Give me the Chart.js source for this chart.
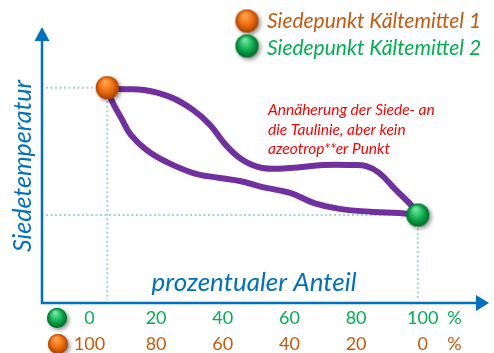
<!DOCTYPE html>
<html>
<head>
<meta charset="utf-8">
<script src="https://cdn.jsdelivr.net/npm/chart.js@4"></script>
<style>
  html, body { margin: 0; padding: 0; background: #fff; }
  canvas { display: block; }
</style>
</head>
<body>
<canvas id="chart" width="494" height="353"></canvas>
<script>
// Siedelinie / Taulinie eines zeotropen Gemischs (Anteil Kältemittel 2 in %)
const tauX   = [0, 3.8, 11.8, 20.4, 27.7, 33.1, 38.2, 43.6, 50.0, 58.9, 69.7, 78.7, 83.4, 87.6, 93.0, 98.4, 100];
const tauY   = [78, 77.5, 77.2, 74.6, 69.9, 64.5, 57.2, 51.8, 48.9, 48.9, 50.0, 50.0, 49.6, 47.1, 40.9, 34.8, 31.9];
const siedeX = [0, 1.3, 4.5, 7.6, 12.7, 19.1, 27.7, 36.3, 42.7, 50.0, 58.9, 66.6, 74.8, 85.7, 93.9, 100];
const siedeY = [78, 73.6, 67.0, 60.9, 55.4, 51.1, 47.1, 45.3, 44.2, 42.0, 39.9, 36.2, 34.1, 33.0, 32.6, 31.9];

// Siedepunkte der reinen Stoffe
const siedepunktKM1 = [0, 78];
const siedepunktKM2 = [100, 31.9];

// Achsbeschriftung: Anteil Kältemittel 2 (oben) und Kältemittel 1 (unten)
const anteilTicks = [0, 20, 40, 60, 80, 100];
const km2Labels = ['0', '20', '40', '60', '80', '100'];
const km1Labels = ['100', '80', '60', '40', '20', '0'];

const BLUE = '#0070C0', ORANGE = '#C55A11', GREEN = '#00B050', PURPLE = '#7030A0';
const FONT = 'Lato, "Open Sans", sans-serif';

function ball(r, light, mid, dark) {
  const pad = 5;
  const c = document.createElement('canvas');
  c.width = c.height = 2 * (r + pad);
  const g = c.getContext('2d');
  const cx = r + pad, cy = r + pad;
  g.save();
  g.shadowColor = 'rgba(0,0,0,0.45)';
  g.shadowBlur = 4;
  g.shadowOffsetX = 2;
  g.shadowOffsetY = 2;
  g.beginPath(); g.arc(cx, cy, r, 0, Math.PI * 2);
  g.fillStyle = mid; g.fill();
  g.restore();
  const grad = g.createRadialGradient(cx - r * 0.2, cy - r * 0.55, r * 0.1, cx, cy, r);
  grad.addColorStop(0, light);
  grad.addColorStop(0.55, mid);
  grad.addColorStop(1, dark);
  g.beginPath(); g.arc(cx, cy, r, 0, Math.PI * 2);
  g.fillStyle = grad; g.fill();
  return c;
}

const orangeBig = ball(11.5, '#FFA550', '#F07010', '#A84000');
const greenBig  = ball(11.5, '#70E8A0', '#10B050', '#006A2A');
const orangeSm  = ball(10, '#FFA550', '#F07010', '#A84000');
const greenSm   = ball(10, '#70E8A0', '#10B050', '#006A2A');

function drawImg(ctx, img, x, y) {
  ctx.drawImage(img, x - img.width / 2, y - img.height / 2);
}

const decor = {
  id: 'decor',
  beforeDatasetsDraw(chart) {
    const { ctx, chartArea: a, scales } = chart;
    const x = scales.x, y = scales.y;
    ctx.save();
    // gepunktete Hilfslinien zu den Siedepunkten
    ctx.strokeStyle = '#A3D3DA';
    ctx.lineWidth = 2;
    ctx.setLineDash([2, 2.5]);
    [siedepunktKM1, siedepunktKM2].forEach(p => {
      const px = x.getPixelForValue(p[0]), py = y.getPixelForValue(p[1]);
      ctx.beginPath();
      ctx.moveTo(a.left + 4, py); ctx.lineTo(px, py);
      ctx.moveTo(px, py); ctx.lineTo(px, a.bottom - 3);
      ctx.stroke();
    });
    ctx.setLineDash([]);
    // Achsen mit Pfeilspitzen
    ctx.strokeStyle = BLUE;
    ctx.fillStyle = BLUE;
    ctx.lineWidth = 2.5;
    ctx.beginPath();
    ctx.moveTo(a.left, a.top + 12);
    ctx.lineTo(a.left, a.bottom);
    ctx.lineTo(a.right - 12, a.bottom);
    ctx.stroke();
    ctx.beginPath();
    ctx.moveTo(a.left, a.top);
    ctx.lineTo(a.left + 7.5, a.top + 14);
    ctx.lineTo(a.left - 7.5, a.top + 14);
    ctx.closePath(); ctx.fill();
    ctx.beginPath();
    ctx.moveTo(a.right, a.bottom);
    ctx.lineTo(a.right - 13, a.bottom - 8);
    ctx.lineTo(a.right - 13, a.bottom + 8);
    ctx.closePath(); ctx.fill();
    ctx.restore();
  },
  afterDraw(chart) {
    const { ctx, scales } = chart;
    const xl = scales.xl;
    ctx.save();
    // Achsentitel
    ctx.fillStyle = BLUE;
    ctx.font = 'italic 26px ' + FONT;
    ctx.textAlign = 'center';
    ctx.textBaseline = 'alphabetic';
    ctx.fillText('prozentualer Anteil', 254, 291);
    ctx.font = 'italic 25px ' + FONT;
    ctx.save();
    ctx.translate(31, 166);
    ctx.rotate(-Math.PI / 2);
    ctx.fillText('Siedetemperatur', 0, 0);
    ctx.restore();

    // Prozentwerte unter der x-Achse
    ctx.font = '18px ' + FONT;
    ctx.textBaseline = 'middle';
    anteilTicks.forEach((t, i) => {
      const px = xl.getPixelForValue(t);
      ctx.fillStyle = GREEN;
      ctx.fillText(km2Labels[i], px, 318);
      ctx.fillStyle = ORANGE;
      ctx.fillText(km1Labels[i], px, 344);
    });
    ctx.fillStyle = GREEN;
    ctx.fillText('%', xl.getPixelForValue(109.5), 318);
    ctx.fillStyle = ORANGE;
    ctx.fillText('%', xl.getPixelForValue(109.5), 344);
    drawImg(ctx, greenSm, 57, 318);
    drawImg(ctx, orangeSm, 58, 344);

    // Legende
    drawImg(ctx, orangeBig, 247, 21);
    drawImg(ctx, greenBig, 247, 46);
    ctx.textAlign = 'left';
    ctx.textBaseline = 'alphabetic';
    ctx.font = 'italic 21px ' + FONT;
    ctx.fillStyle = ORANGE;
    ctx.fillText('Siedepunkt Kältemittel 1', 267, 28);
    ctx.fillStyle = GREEN;
    ctx.fillText('Siedepunkt Kältemittel 2', 267, 55);

    // Hinweis
    ctx.fillStyle = '#FF0000';
    ctx.font = 'italic 15.5px ' + FONT;
    ctx.fillText('Annäherung der Siede- an', 268, 115);
    ctx.fillText('die Taulinie, aber kein', 268, 134.5);
    ctx.fillText('azeotrop**er Punkt', 268, 153.5);
    ctx.restore();
  }
};

const toPts = (xs, ys) => xs.map((v, i) => ({ x: v, y: ys[i] }));

new Chart(document.getElementById('chart'), {
  type: 'line',
  data: {
    datasets: [
      { label: 'Siedepunkt Kältemittel 1', data: [{ x: siedepunktKM1[0], y: siedepunktKM1[1] }],
        showLine: false, pointStyle: orangeBig, order: 0 },
      { label: 'Siedepunkt Kältemittel 2', data: [{ x: siedepunktKM2[0], y: siedepunktKM2[1] }],
        showLine: false, pointStyle: greenBig, order: 0 },
      { label: 'Taulinie', data: toPts(tauX, tauY), borderColor: PURPLE, borderWidth: 6,
        pointRadius: 0, tension: 0.4, borderCapStyle: 'round',
        borderJoinStyle: 'round', fill: false, order: 1 },
      { label: 'Siedelinie', data: toPts(siedeX, siedeY), borderColor: PURPLE, borderWidth: 6,
        pointRadius: 0, tension: 0.4, borderCapStyle: 'round',
        borderJoinStyle: 'round', fill: false, order: 1 }
    ]
  },
  options: {
    responsive: false,
    animation: false,
    devicePixelRatio: 1,
    layout: { padding: { left: 42, top: 27, right: 0, bottom: 50 } },
    plugins: { legend: { display: false }, tooltip: { enabled: false } },
    scales: {
      x: { type: 'linear', display: false, min: -21.02, max: 122.93 },
      xl: { type: 'linear', axis: 'x', display: false, min: -14.24, max: 119.88 },
      y: { type: 'linear', display: false, min: 0, max: 100 }
    }
  },
  plugins: [decor]
});
</script>
</body>
</html>
